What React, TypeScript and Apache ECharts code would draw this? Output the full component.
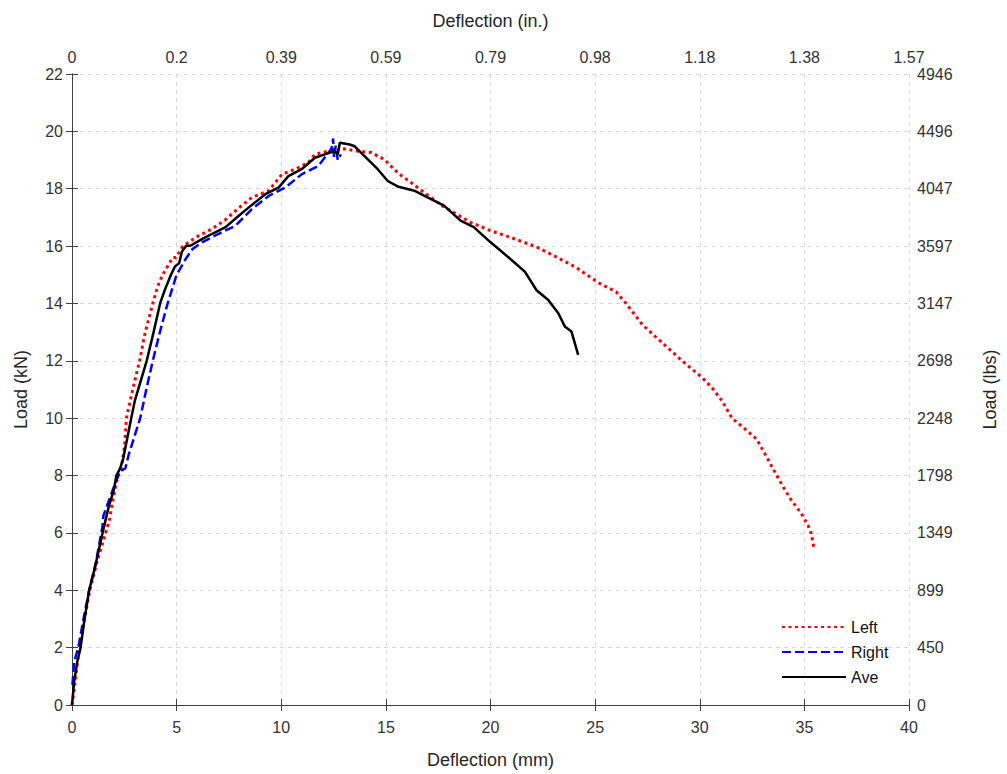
import React, { useEffect, useRef } from "react";
import * as echarts from "echarts";

const leftX = [0, 0.1, 0.18, 0.35, 0.6, 0.85, 1.2, 1.61, 1.8, 2.04, 2.2, 2.36, 2.51, 2.6, 2.9, 3.23, 3.5, 3.86, 4.1, 4.33, 4.81, 4.97, 5.3, 6.07, 6.7, 7.3, 7.81, 8.6, 9.4, 10.03, 10.66, 11.29, 11.61, 12.24, 13.03, 13.67, 14.3, 14.93, 15.56, 16.19, 16.83, 17.7, 19.04, 19.99, 20.94, 22.2, 23.15, 24.1, 25.21, 26.0, 26.48, 27.27, 28.22, 29.17, 30.12, 30.59, 31.07, 31.54, 32.17, 32.72, 33.12, 33.59, 33.99, 34.38, 34.86, 35.17, 35.33, 35.46];
const leftY = [0, 0.5, 1.0, 2.0, 3.0, 4.0, 5.0, 6.0, 6.5, 7.5, 8.0, 8.3, 9.0, 10.0, 11.0, 12.0, 13.0, 14.0, 14.6, 15.0, 15.6, 15.6, 16.0, 16.37, 16.6, 16.9, 17.23, 17.7, 17.93, 18.5, 18.68, 18.91, 19.2, 19.31, 19.39, 19.31, 19.26, 19.02, 18.56, 18.22, 17.87, 17.4, 16.83, 16.54, 16.31, 15.97, 15.62, 15.25, 14.7, 14.41, 14.0, 13.25, 12.62, 11.99, 11.41, 11.06, 10.6, 10.0, 9.62, 9.27, 8.75, 8.12, 7.6, 7.14, 6.67, 6.27, 5.98, 5.46];

const rightX = [0.02, 0.1, 0.3, 0.55, 0.82, 1.15, 1.45, 1.5, 1.7, 2.0, 2.3, 2.55, 2.7, 3.0, 3.26, 3.55, 3.86, 4.2, 4.57, 5.0, 5.44, 5.76, 6.23, 7.02, 7.81, 8.6, 9.4, 10.19, 10.97, 11.77, 12.2, 12.4, 12.48, 12.52, 12.6, 12.7, 12.85];
const rightY = [0.7, 1.5, 2.0, 3.0, 4.0, 5.0, 6.2, 6.6, 7.0, 7.6, 8.15, 8.25, 8.7, 9.4, 10.0, 11.0, 12.0, 13.0, 14.0, 15.0, 15.56, 15.9, 16.14, 16.43, 16.71, 17.29, 17.75, 18.04, 18.5, 18.79, 19.2, 19.4, 19.75, 19.1, 19.5, 19.0, 19.2];

const aveX = [0, 0.1, 0.25, 0.41, 0.6, 0.82, 1.1, 1.46, 1.75, 2.0, 2.12, 2.3, 2.45, 2.83, 3.0, 3.57, 3.9, 4.21, 4.45, 4.73, 4.93, 5.12, 5.25, 5.45, 5.68, 6.23, 6.7, 7.34, 7.97, 8.45, 9.24, 9.87, 10.34, 10.97, 11.61, 12.08, 12.56, 12.7, 12.8, 13.27, 13.51, 13.98, 14.61, 15.09, 15.56, 16.36, 16.99, 17.78, 18.57, 19.2, 19.99, 20.94, 21.65, 22.2, 22.76, 23.24, 23.55, 23.87, 24.19];
const aveY = [0, 0.8, 1.5, 2.0, 3.0, 4.0, 4.8, 6.0, 6.9, 7.5, 8.0, 8.25, 8.6, 10.0, 10.6, 12.0, 13.0, 14.0, 14.5, 15.0, 15.3, 15.4, 15.8, 16.0, 16.02, 16.25, 16.43, 16.66, 17.06, 17.35, 17.81, 18.04, 18.44, 18.68, 19.08, 19.2, 19.31, 19.2, 19.6, 19.54, 19.48, 19.14, 18.68, 18.27, 18.08, 17.93, 17.7, 17.41, 16.89, 16.66, 16.14, 15.56, 15.1, 14.46, 14.12, 13.66, 13.2, 13.02, 12.21];

const topTickLabels = ["0", "0.2", "0.39", "0.59", "0.79", "0.98", "1.18", "1.38", "1.57"];
const rightTickLabels = ["0", "450", "899", "1349", "1798", "2248", "2698", "3147", "3597", "4047", "4496", "4946"];

const zip = (xs: number[], ys: number[]) => xs.map((x, i) => [x, ys[i]]);

export default function App() {
  const ref = useRef<HTMLDivElement>(null);
  useEffect(() => {
    if (!ref.current) return;
    document.body.style.margin = "0";
    document.body.style.overflow = "hidden";
    const chart = echarts.init(ref.current, null, { renderer: "svg" });
    const font = "Liberation Sans, Arial, sans-serif";
    const axisColor = "#404040";
    const labelStyle = { color: "#333", fontSize: 16, fontFamily: font };
    const nameStyle = { color: "#262626", fontSize: 18, fontFamily: font };
    const splitLine = { show: true, lineStyle: { color: "#d9d9d9", type: [4, 4] as any, width: 1 } };
    chart.setOption({
      animation: false,
      backgroundColor: "#fff",
      grid: { left: 72, right: 92, top: 74, bottom: 64.5, containLabel: false },
      legend: {
        orient: "vertical",
        left: 776,
        top: 614,
        itemWidth: 64,
        itemHeight: 14,
        itemGap: 9,
        itemStyle: { opacity: 0 },
        textStyle: { color: "#111", fontSize: 16, fontFamily: font },
        data: ["Left", "Right", "Ave"],
      },
      xAxis: [
        {
          type: "value",
          position: "bottom",
          min: 0,
          max: 40,
          interval: 5,
          name: "Deflection (mm)",
          nameLocation: "middle",
          nameGap: 46,
          nameTextStyle: nameStyle,
          axisLine: { show: true, lineStyle: { color: axisColor, width: 1 } },
          axisTick: { show: true, inside: true, length: 6, lineStyle: { color: axisColor } },
          axisLabel: { ...labelStyle, margin: 14 },
          splitLine,
        },
        {
          type: "value",
          position: "top",
          min: 0,
          max: 40,
          interval: 5,
          name: "Deflection (in.)",
          nameLocation: "middle",
          nameGap: 44,
          nameTextStyle: nameStyle,
          axisLine: { show: true, lineStyle: { color: axisColor, width: 1 } },
          axisTick: { show: true, inside: true, length: 6, lineStyle: { color: axisColor } },
          axisLabel: {
            ...labelStyle,
            margin: 9,
            formatter: (v: number) => topTickLabels[Math.round(v / 5)] ?? "",
          },
          splitLine: { show: false },
        },
      ],
      yAxis: [
        {
          type: "value",
          position: "left",
          min: 0,
          max: 22,
          interval: 2,
          name: "Load (kN)",
          nameLocation: "middle",
          nameGap: 42,
          nameTextStyle: nameStyle,
          axisLine: { show: true, lineStyle: { color: axisColor, width: 1 } },
          axisTick: { show: true, inside: true, length: 6, lineStyle: { color: axisColor } },
          axisLabel: { ...labelStyle, margin: 9 },
          splitLine,
        },
        {
          type: "value",
          position: "right",
          min: 0,
          max: 22,
          interval: 2,
          name: "Load (lbs)",
          nameLocation: "middle",
          nameGap: 72,
          nameTextStyle: nameStyle,
          axisLine: { show: true, lineStyle: { color: axisColor, width: 1 } },
          axisTick: { show: true, inside: true, length: 6, lineStyle: { color: axisColor } },
          axisLabel: {
            ...labelStyle,
            margin: 8,
            formatter: (v: number) => rightTickLabels[Math.round(v / 2)] ?? "",
          },
          splitLine: { show: false },
        },
      ],
      series: [
        {
          name: "Left",
          type: "line",
          symbol: "none",
          data: zip(leftX, leftY),
          lineStyle: { color: "#ff0000", width: 3, type: [3, 3.5] as any },
          itemStyle: { color: "#ff0000" },
          z: 2,
        },
        {
          name: "Right",
          type: "line",
          symbol: "none",
          data: zip(rightX, rightY),
          lineStyle: { color: "#0000ff", width: 2.5, type: [9, 4] as any },
          itemStyle: { color: "#0000ff" },
          z: 3,
        },
        {
          name: "Ave",
          type: "line",
          symbol: "none",
          data: zip(aveX, aveY),
          lineStyle: { color: "#000000", width: 2.5, type: "solid" },
          itemStyle: { color: "#000000" },
          z: 4,
        },
      ],
    });
    return () => chart.dispose();
  }, []);
  return <div ref={ref} style={{ width: 1007, height: 774 }} />;
}
